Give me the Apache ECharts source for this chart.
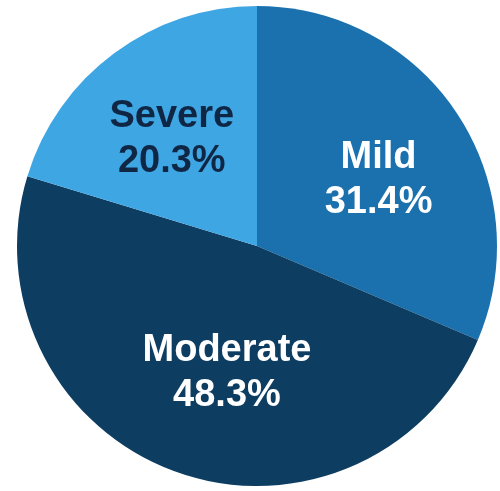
<!DOCTYPE html>
<html>
<head>
<meta charset="utf-8">
<script src="https://cdn.jsdelivr.net/npm/echarts@6/dist/echarts.min.js"></script>
<style>
  html, body { margin: 0; padding: 0; background: #ffffff; }
  #chart { width: 500px; height: 491px; }
</style>
</head>
<body>
<div id="chart"></div>
<script>
// Severity breakdown (percent of cases)
const categories = ['Mild', 'Moderate', 'Severe'];
const shares = [31.4, 48.3, 20.3];

const sliceColors = ['#1a71ad', '#0e3d62', '#3fa6e4'];
const labelColors = ['#ffffff', '#ffffff', '#0f2744'];
const labelOffsets = [[19, 2], [12, 11], [-12, -8]];

const chart = echarts.init(document.getElementById('chart'), null, { renderer: 'canvas' });

chart.setOption({
  backgroundColor: '#ffffff',
  animation: false,
  series: [{
    type: 'pie',
    center: [257, 246],
    radius: [0, 240],
    startAngle: 90,
    clockwise: true,
    avoidLabelOverlap: false,
    labelLine: { show: false },
    data: categories.map((name, i) => ({
      name: name,
      value: shares[i],
      itemStyle: { color: sliceColors[i] },
      label: {
        color: labelColors[i],
        offset: labelOffsets[i]
      }
    })),
    label: {
      show: true,
      position: 'inside',
      formatter: '{b}\n{c}%',
      fontFamily: '"Liberation Sans", Arial, sans-serif',
      fontWeight: 'bold',
      fontSize: 38,
      lineHeight: 45,
      align: 'center'
    },
    emphasis: { disabled: true }
  }]
});
</script>
</body>
</html>
